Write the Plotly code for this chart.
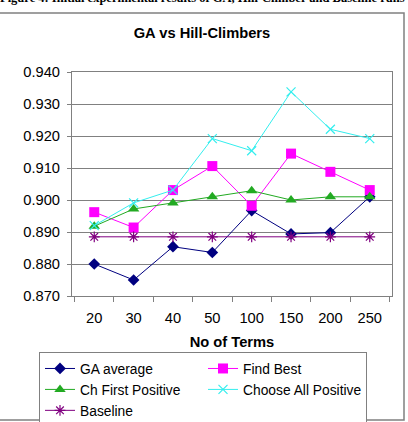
import plotly.graph_objects as go

terms = ["20", "30", "40", "50", "100", "150", "200", "250"]
ga_average = [0.8800, 0.8750, 0.8854, 0.8836, 0.8967, 0.8894, 0.8898, 0.9010]
find_best = [0.8962, 0.8914, 0.9031, 0.9106, 0.8982, 0.9145, 0.9088, 0.9031]
ch_first_positive = [0.8918, 0.8972, 0.8991, 0.9010, 0.9029, 0.9000, 0.9010, 0.9010]
choose_all_positive = [0.8920, 0.8991, 0.9031, 0.9192, 0.9154, 0.9338, 0.9221, 0.9192]
baseline = [0.8885, 0.8885, 0.8885, 0.8885, 0.8885, 0.8885, 0.8885, 0.8885]

W, H = 408, 422
L, R, T, B = 72, 392, 72, 296  # plot area in pixels


def px_x(px):
    return (px - L) / (R - L)


def px_y(py):
    return (B - py) / (B - T)


FONT = "Liberation Sans, Arial, sans-serif"
FS = 14.7

series = [
    ("GA average", ga_average, "#000080", "diamond", 9),
    ("Find Best", find_best, "#FF00FF", "square", 10),
    ("Ch First Positive", ch_first_positive, "#22AA22", "triangle-up", 10),
    ("Choose All Positive", choose_all_positive, "#33EEEE", "x-thin-open", 9),
    ("Baseline", baseline, "#800080", "asterisk-open", 9),
]

fig = go.Figure()
for name, vals, col, sym, size in series:
    fig.add_trace(go.Scatter(
        x=terms, y=vals, name=name, mode="lines+markers",
        line=dict(color=col, width=1),
        marker=dict(symbol=sym, size=size, color=col,
                    line=dict(color=col, width=1.2 if "open" in sym else 0)),
    ))

fig.update_layout(
    width=W, height=H,
    margin=dict(l=L, r=W - R, t=T, b=H - B, pad=0, autoexpand=False),
    paper_bgcolor="white", plot_bgcolor="white",
    font=dict(family=FONT, size=FS, color="black"),
    title=dict(text="<b>GA vs Hill-Climbers</b>", x=0.495, xanchor="center",
               y=1 - 33 / H, yanchor="middle", font=dict(size=FS, family=FONT)),
    showlegend=True,
    legend=dict(orientation="h", x=px_x(39), y=px_y(352), xanchor="left", yanchor="top",
                entrywidth=118, entrywidthmode="pixels",
                bordercolor="#808080", borderwidth=1, bgcolor="white",
                font=dict(size=13.8, family=FONT), itemwidth=30, tracegroupgap=0),
    xaxis=dict(type="category", showgrid=False, showline=True, mirror=True,
               linecolor="#808080", linewidth=1, ticks="outside", tickson="boundaries",
               ticklen=5, tickcolor="#808080", tickfont=dict(size=FS), ticklabelstandoff=8,
               title=dict(text="<b>No of Terms</b>", font=dict(size=FS), standoff=12),
               fixedrange=True),
    yaxis=dict(range=[0.870, 0.940], dtick=0.01, tick0=0.87, tickformat=".3f",
               showgrid=True, gridcolor="#808080", gridwidth=1,
               showline=True, mirror=True, linecolor="#808080", linewidth=1,
               ticks="outside", ticklen=4, tickcolor="#808080", tickfont=dict(size=FS),
               ticklabelstandoff=4, zeroline=False),
)

# outer chart border
fig.add_shape(type="rect", xref="paper", yref="paper",
              x0=px_x(-1), x1=px_x(404), y0=px_y(420), y1=px_y(13),
              line=dict(color="#808080", width=1.5), fillcolor="rgba(0,0,0,0)", layer="below")

# cut-off caption at the very top (only its lower half is visible in the reference)
fig.add_annotation(xref="paper", yref="paper", x=px_x(202), y=px_y(-2), xanchor="center",
                   yanchor="middle", showarrow=False,
                   text="<b>Figure 4: Initial experimental results of GA, Hill-Climber and Baseline runs</b>",
                   font=dict(family="Liberation Serif, Times New Roman, serif", size=12.5, color="black"))

fig.write_html("out.html")
